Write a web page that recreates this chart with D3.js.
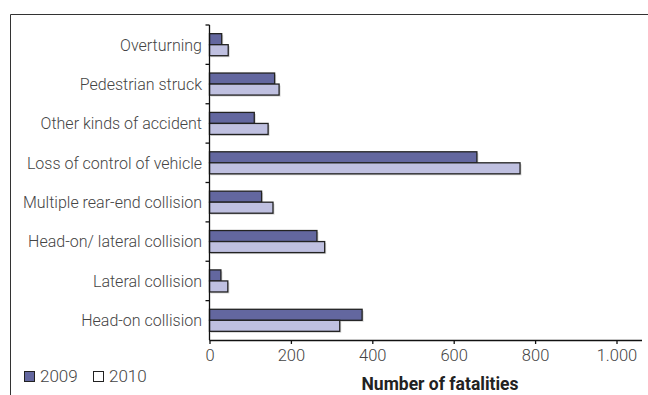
<!DOCTYPE html>
<html><head><meta charset="utf-8">
<script src="https://cdn.jsdelivr.net/npm/d3@7"></script>
<style>body{margin:0;background:#fff}svg{display:block}text{font-family:Roboto,"DejaVu Sans",sans-serif}</style>
</head><body><svg id="c" width="648" height="395"></svg>
<script>
const categories = ["Overturning","Pedestrian struck","Other kinds of accident","Loss of control of vehicle","Multiple rear-end collision","Head-on/ lateral collision","Lateral collision","Head-on collision"];
const values2009 = [30,160,110,657,128,264,28,375];
const values2010 = [46,171,144,763,156,283,45,320];
const seriesNames = ["2009","2010"];
const xTicks = [0,200,400,600,800,1000];
const colors = ["#63679f","#bfc0e0"];

const svg = d3.select("#c");
svg.append("path").attr("d","M10.5,395V14.5H648").attr("fill","none").attr("stroke","#333").attr("stroke-width",1);

const x = d3.scaleLinear().domain([0,1000]).range([209.5,616.5]);
const y = d3.scaleBand().domain(categories).range([25,340]).paddingInner(0.44).paddingOuter(0.22);
const sub = d3.scaleBand().domain(seriesNames).range([0,y.bandwidth()]);

const rows = categories.map((c,i)=>({c, vals:[values2009[i],values2010[i]]}));
const g = svg.append("g");
rows.forEach(r=>{
  r.vals.forEach((v,j)=>{
    const yy = y(r.c)+sub(seriesNames[j]);
    g.append("rect").attr("x",x(0)+1.5).attr("y",yy+1.5).attr("width",x(v)-x(0)).attr("height",sub.bandwidth())
      .attr("fill","#bbb").attr("opacity",0.6);
  });
});
rows.forEach(r=>{
  r.vals.forEach((v,j)=>{
    const yy = y(r.c)+sub(seriesNames[j]);
    g.append("rect").attr("x",x(0)).attr("y",yy).attr("width",x(v)-x(0)).attr("height",sub.bandwidth())
      .attr("fill",colors[j]).attr("stroke","#222").attr("stroke-width",1.3);
  });
});

const yax = svg.append("g");
yax.append("line").attr("x1",209.5).attr("x2",209.5).attr("y1",y.range()[0]).attr("y2",y.range()[1]).attr("stroke","#111").attr("stroke-width",1.3);
const bounds = categories.map(c=>y(c)-y.step()*y.paddingInner()/2);
bounds.forEach(b=>{
  yax.append("line").attr("x1",205.5).attr("x2",209.5).attr("y1",b).attr("y2",b).attr("stroke","#111").attr("stroke-width",1.3);
});
categories.forEach(c=>{
  yax.append("text").attr("x",202).attr("y",y(c)+y.bandwidth()/2).attr("dy","0.37em").attr("text-anchor","end")
    .attr("font-size",16).attr("font-weight",300).attr("fill","#444").text(c);
});

const xax = svg.append("g").attr("transform","translate(0,340)")
  .call(d3.axisBottom(x).tickValues(xTicks).tickSize(4).tickPadding(5).tickFormat(d=>d3.format(",")(d).replace(",",".")));
xax.select(".domain").remove();
xax.append("line").attr("x1",209.5).attr("x2",642).attr("y1",0.5).attr("y2",0.5).attr("stroke","#111").attr("stroke-width",1.3);
xax.selectAll(".tick line").attr("stroke","#111").attr("stroke-width",1.3);
xax.selectAll(".tick text").attr("font-size",16.5).attr("font-weight",300).attr("fill","#444").attr("font-family","Roboto");

svg.append("text").attr("x",440).attr("y",390).attr("text-anchor","middle").attr("font-size",17.5).attr("font-weight","bold").attr("fill","#222").text("Number of fatalities");

const leg = svg.append("g");
const lx = [24,93];
seriesNames.forEach((s,i)=>{
  leg.append("rect").attr("x",lx[i]+0.5).attr("y",371.5).attr("width",10).attr("height",10).attr("fill",i===0?colors[0]:"#fff").attr("stroke","#222").attr("stroke-width",1);
  leg.append("text").attr("x",lx[i]+16).attr("y",382).attr("font-size",17).attr("font-weight",300).attr("fill","#444").text(s);
});
</script></body></html>
